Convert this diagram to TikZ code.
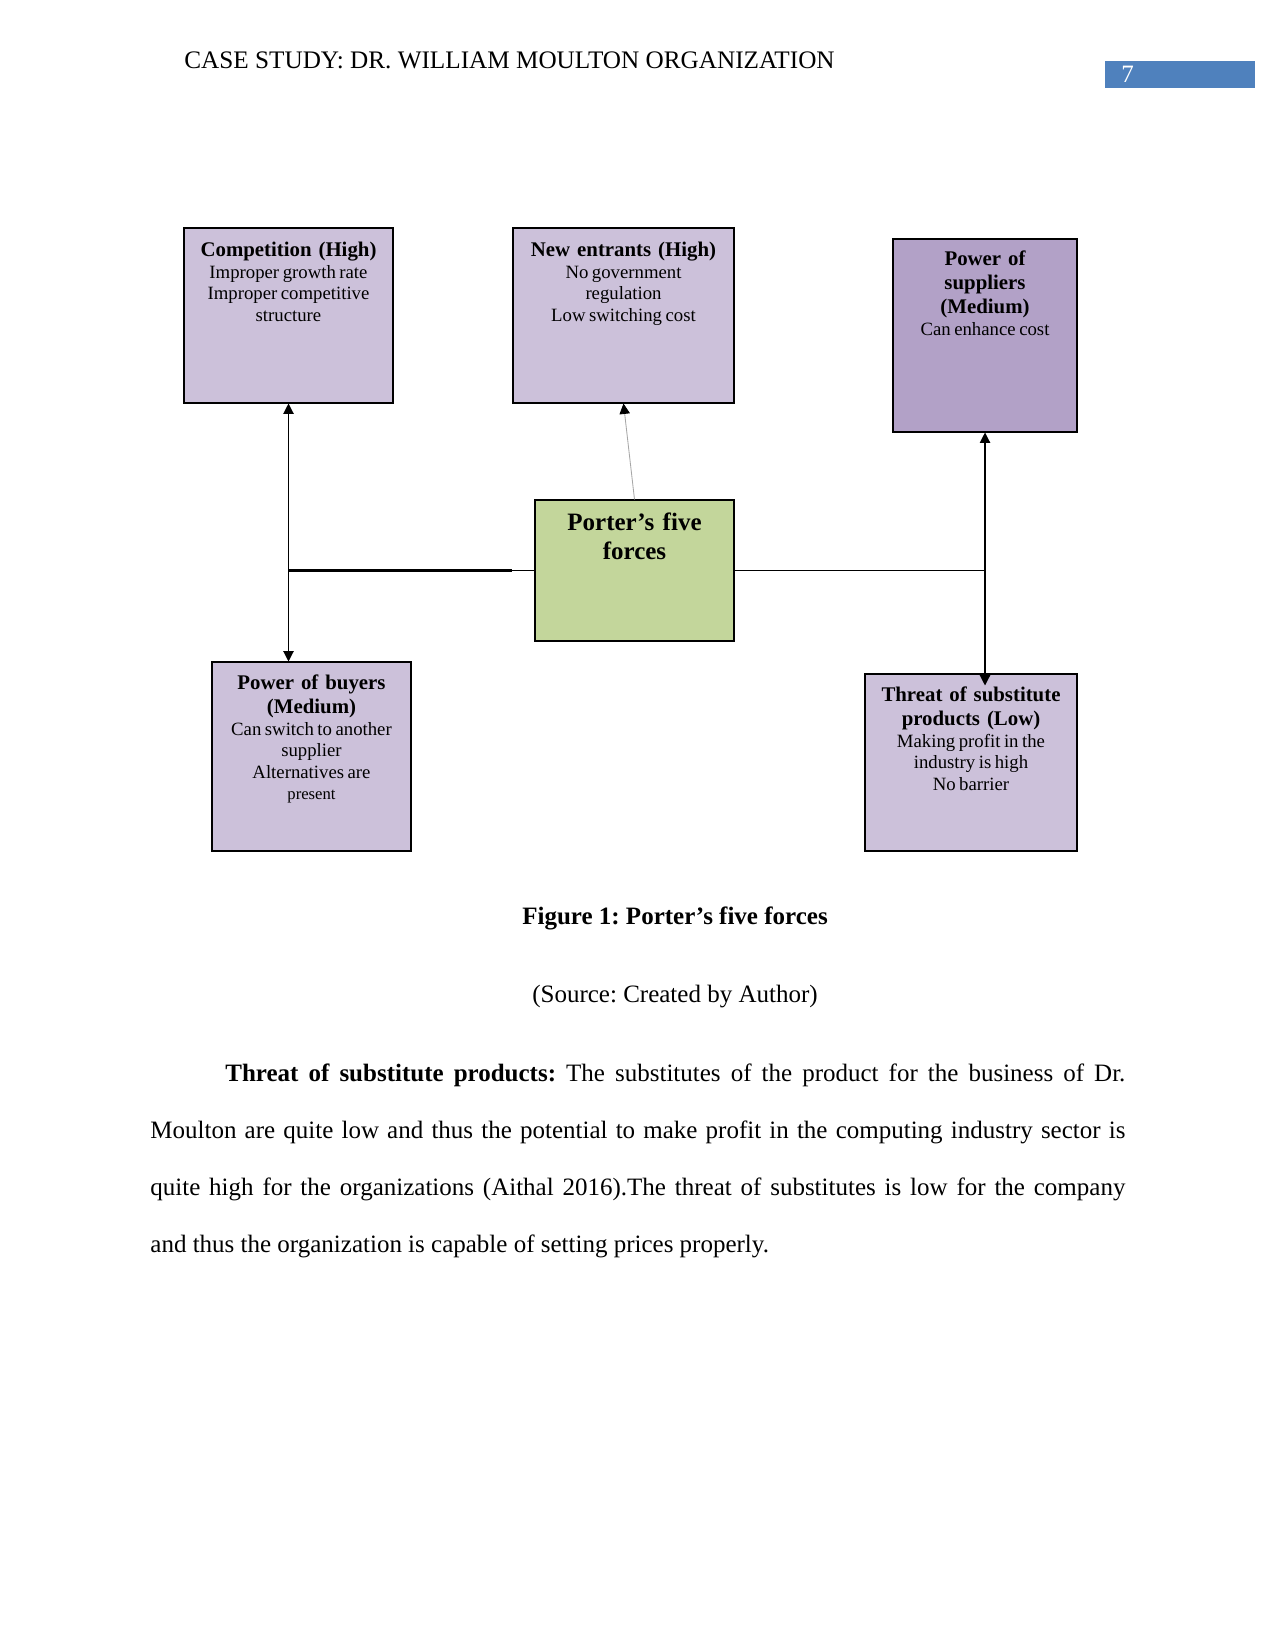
\documentclass[tikz,border=0pt]{standalone}
\usepackage{fontspec}
\setmainfont{Liberation Serif}
\usetikzlibrary{arrows.meta,fit,calc}
\definecolor{lav}{HTML}{CCC1DA}
\definecolor{lavd}{HTML}{B2A1C7}
\definecolor{grn}{HTML}{C3D69B}
\definecolor{pgblue}{HTML}{4F81BD}
\frenchspacing
\newcommand{\bt}[1]{{\fontsize{10}{11.5}\selectfont\bfseries #1\par}}
\newcommand{\nt}[1]{{\fontsize{9}{10.4}\selectfont\spaceskip=1.7pt\relax #1\par}}
\begin{document}
\begin{tikzpicture}[x=0.48pt,y=-0.48pt,
  forcebox/.style={draw=black,line width=0.5pt,fill=lav,inner sep=0pt},
  boxtext/.style={anchor=base,inner sep=0pt,text width=110pt,align=center},
  conn/.style={line width=0.55pt},
  tri/.tip={Triangle[width=5pt,length=5pt]},
]
\useasboundingbox[fill=white] (0,0) rectangle (1275,1651);

% header
\node[anchor=base west,inner sep=0pt,font=\fontsize{12.1}{14}\selectfont] (hdr) at (184,69) {CASE STUDY: DR. WILLIAM MOULTON ORGANIZATION};
\node[fill=pgblue,inner sep=0pt,fit={(1105,61) (1255,88)}] (pgbox) {};
\node[anchor=base west,inner sep=0pt,text=white,font=\fontsize{12}{14}\selectfont] (pgno) at (1121,83) {7};

% boxes
\node[forcebox,fit={(184,228) (393,403)}] (comp) {};
\node[forcebox,fit={(513,228) (734,403)}] (newe) {};
\node[forcebox,fill=lavd,fit={(893,239) (1077,432)}] (sup) {};
\node[forcebox,fill=grn,fit={(535,500) (734,641)}] (port) {};
\node[forcebox,fit={(212,662) (411,851)}] (buy) {};
\node[forcebox,fit={(865,674) (1077,851)}] (thr) {};

% box texts
\node[boxtext] (compt) at ([yshift=-14pt]comp.north) {\bt{Competition (High)}\nt{Improper growth rate}\nt{Improper competitive}\nt{structure}};
\node[boxtext] (newet) at ([yshift=-14pt]newe.north) {\bt{New entrants (High)}\nt{No government}\nt{regulation}\nt{Low switching cost}};
\node[boxtext] (supt) at ([yshift=-13.2pt]sup.north) {\bt{Power of}\bt{suppliers}\bt{(Medium)}\nt{Can enhance cost}};
\node[boxtext,font=\fontsize{12}{14.2}\selectfont\bfseries] (portt) at ([yshift=-14.8pt]port.north) {Porter’s five\\forces};
\node[boxtext] (buyt) at ([yshift=-13.5pt]buy.north) {\bt{Power of buyers}\bt{(Medium)}\nt{Can switch to another}\nt{supplier}\nt{Alternatives are}{\fontsize{8}{10}\selectfont present\par}};
\node[boxtext] (thrt) at ([yshift=-13.5pt]thr.north) {\bt{Threat of substitute}\bt{products (Low)}\nt{Making profit in the}\nt{industry is high}\nt{No barrier}};

% connectors
\coordinate (lj) at (comp.south |- port.west);
\coordinate (lk) at (port.west -| newe.west);
\coordinate (rj) at (port.east -| sup.south);
\coordinate (thtip) at ($(sup.south |- thr.north)+(0,12)$);
\draw[conn,tri-tri] (comp.south) -- (comp.south |- buy.north);
\draw[line width=1.1pt] (lj) -- (lk);
\draw[line width=0.45pt] (lk) -- (port.west);
\draw[conn] (port.east) -- (rj);
\draw[conn,tri-tri] (sup.south) -- (thtip);
\draw[line width=0.4pt,draw=gray!70,-{Triangle[width=5pt,length=5pt,color=black]}] (port.north) -- (newe.south);

% caption and text
\node[anchor=base,inner sep=0pt,font=\fontsize{12}{14}\selectfont\bfseries] (cap) at (675,924) {Figure 1: Porter’s five forces};
\node[anchor=base,inner sep=0pt,font=\fontsize{12}{14}\selectfont] (src) at (675,1002) {(Source: Created by Author)};
\node[anchor=base west,inner sep=0pt,text width=468pt,align=justify] (para) at (150,1081) {\fontsize{12}{27.5}\selectfont\hspace*{36pt}\textbf{Threat of substitute products:} The substitutes of the product for the business of Dr.\linebreak Moulton are quite low and thus the potential to make profit in the computing industry sector is\linebreak quite high for the organizations (Aithal 2016).The threat of substitutes is low for the company\linebreak and thus the organization is capable of setting prices properly.\par};
\end{tikzpicture}
\end{document}
